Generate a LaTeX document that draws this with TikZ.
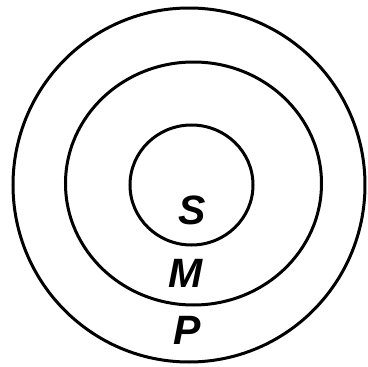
\documentclass[tikz,border=0pt]{standalone}
\usepackage{fontspec}
\setsansfont{Liberation Sans}

\begin{document}
\begin{tikzpicture}[
  x=1pt,
  y=-1pt,
  ring/.style={draw=black, line width=3pt},
  term/.style={font=\fontsize{41}{46}\selectfont\sffamily\bfseries\itshape, inner sep=0pt}
]
\useasboundingbox (0,0) rectangle (368,367);

\coordinate (po) at (189,185);
\coordinate (mo) at (193.5,183.5);
\coordinate (so) at (191.5,185);

% Three nested terms: P contains M contains S.
\draw[ring] (po) ellipse[x radius=176pt, y radius=177pt];
\draw[ring] (mo) ellipse[x radius=128pt, y radius=121.5pt];
\draw[ring] (so) ellipse[x radius=61.5pt, y radius=60pt];

\node[term] (s) at (192,210) {S};
\node[term] (m) at (186,273) {M};
\node[term] (p) at (187,330) {P};
\end{tikzpicture}
\end{document}
